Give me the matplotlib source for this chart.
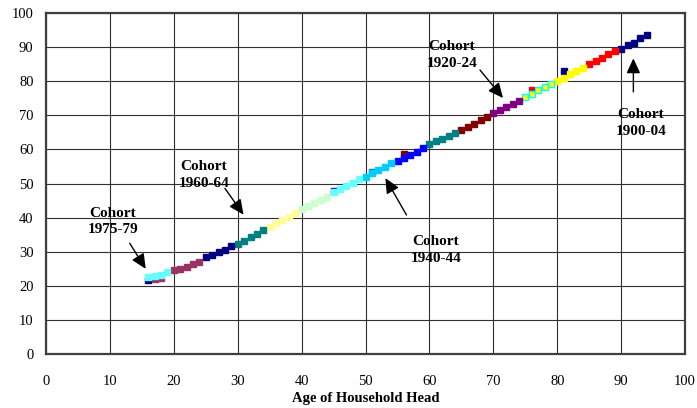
import matplotlib
matplotlib.use('Agg')
from matplotlib import pyplot as plt

############### data ###############
cohorts = ['1900-04', '1905-09', '1910-14', '1915-19', '1920-24', '1925-29',
           '1930-34', '1935-39', '1940-44', '1945-49', '1950-54', '1955-59',
           '1960-64', '1965-69', '1970-74', '1975-79']

ages_1900 = [81, 90, 91, 92, 93, 94]
vals_1900 = [83.0, 89.6, 90.7, 91.3, 92.6, 93.7]
ages_1905 = [76, 85, 86, 87, 88, 89]
vals_1905 = [77.4, 85.0, 85.8, 86.9, 87.9, 88.9]
ages_1910 = [80, 81, 82, 83, 84]
vals_1910 = [80.1, 81.1, 82.1, 82.9, 83.8]
ages_1915 = [75, 76, 77, 78, 79]
vals_1915 = [75.5, 76.4, 77.3, 78.4, 79.1]
ages_1920 = [70, 71, 72, 73, 74]
vals_1920 = [70.6, 71.5, 72.4, 73.3, 74.3]
ages_1925 = [56, 65, 66, 67, 68, 69]
vals_1925 = [58.6, 65.7, 66.7, 67.6, 68.6, 69.6]
ages_1930 = [51, 60, 61, 62, 63, 64]
vals_1930 = [53.4, 61.6, 62.4, 63.2, 64.0, 64.8]
ages_1935 = [45, 55, 56, 57, 58, 59]
vals_1935 = [47.9, 56.7, 57.4, 58.4, 59.3, 60.3]
ages_1940 = [50, 51, 52, 53, 54]
vals_1940 = [52.0, 53.0, 54.0, 54.9, 55.9]
ages_1945 = [45, 46, 47, 48, 49]
vals_1945 = [47.6, 48.3, 49.3, 50.3, 51.3]
ages_1950 = [40, 41, 42, 43, 44]
vals_1950 = [42.5, 43.4, 44.4, 45.2, 46.2]
ages_1955 = [35, 36, 37, 38, 39]
vals_1955 = [37.3, 38.5, 39.3, 40.3, 41.3]
ages_1960 = [30, 31, 32, 33, 34]
vals_1960 = [32.4, 33.3, 34.3, 35.3, 36.3]
ages_1965 = [16, 25, 26, 27, 28, 29]
vals_1965 = [21.6, 28.4, 29.1, 29.9, 30.6, 31.6]
ages_1970 = [17, 18, 20, 21, 22, 23, 24]
vals_1970 = [21.9, 22.4, 24.6, 25.1, 25.6, 26.3, 27.1]
ages_1975 = [16, 17, 18, 19]
vals_1975 = [22.5, 22.9, 23.3, 24.0]

all_ages = [ages_1900, ages_1905, ages_1910, ages_1915, ages_1920, ages_1925,
            ages_1930, ages_1935, ages_1940, ages_1945, ages_1950, ages_1955,
            ages_1960, ages_1965, ages_1970, ages_1975]
all_vals = [vals_1900, vals_1905, vals_1910, vals_1915, vals_1920, vals_1925,
            vals_1930, vals_1935, vals_1940, vals_1945, vals_1950, vals_1955,
            vals_1960, vals_1965, vals_1970, vals_1975]

# labelled cohorts: text position, arrow tail, arrow tip
labels = ['1975-79', '1960-64', '1940-44', '1920-24', '1900-04']
label_xy = [(10.5, 38.9), (24.7, 52.5), (61.0, 30.5), (63.5, 87.7), (93.1, 67.7)]
arrow_from = [(13.1, 32.5), (28.0, 48.6), (56.4, 40.8), (67.9, 83.3), (91.9, 76.9)]
arrow_to = [(15.6, 25.0), (30.9, 40.9), (53.1, 51.6), (71.5, 75.1), (91.9, 86.7)]

############### style ###############
face = ['#000080', '#FF0000', '#FFFF00', '#FFFF00', '#800080', '#800000',
        '#008080', '#0000FF', '#00CCFF', '#66FFFF', '#CCFFCC', '#FFFF99',
        '#008080', '#000080', '#993366', '#66FFFF']
edge = list(face)
edge[3] = '#00FFFF'

plt.rcParams['font.family'] = ['Liberation Serif', 'DejaVu Serif']

fig = plt.figure(figsize=(6.97, 4.08), dpi=100)
ax = fig.add_axes([0.066, 0.132, 0.917, 0.836])

for a, v, fc, ec in zip(all_ages, all_vals, face, edge):
    ax.plot(a, v, linestyle='none', marker='s', markersize=4.4,
            markerfacecolor=fc, markeredgecolor=ec, markeredgewidth=1.0, zorder=3)

for lab, txy, afrom, ato in zip(labels, label_xy, arrow_from, arrow_to):
    ax.text(txy[0], txy[1], 'Cohort\n' + lab, ha='center', va='center',
            fontsize=11, fontweight='bold', linespacing=1.35, zorder=4)
    ax.annotate('', xy=ato, xytext=afrom,
                arrowprops=dict(arrowstyle='-|>,head_length=0.6,head_width=0.28',
                                color='black', lw=1.0,
                                mutation_scale=15, shrinkA=0, shrinkB=0),
                zorder=4)

ax.set_xlim(0, 100)
ax.set_ylim(0, 100)
ax.set_xticks(range(0, 101, 10))
ax.set_yticks(range(0, 101, 10))
ax.grid(True, color='#303030', linewidth=0.8)
ax.set_axisbelow(True)
ax.tick_params(length=0, labelsize=10.5)
ax.tick_params(axis='x', pad=15)
ax.tick_params(axis='y', pad=9)
for s in ax.spines.values():
    s.set_color('#404040')
    s.set_linewidth(1.6)

ax.set_xlabel('Age of Household Head', fontsize=10.5, fontweight='bold', labelpad=3)

fig.savefig('out.png', dpi=100)
